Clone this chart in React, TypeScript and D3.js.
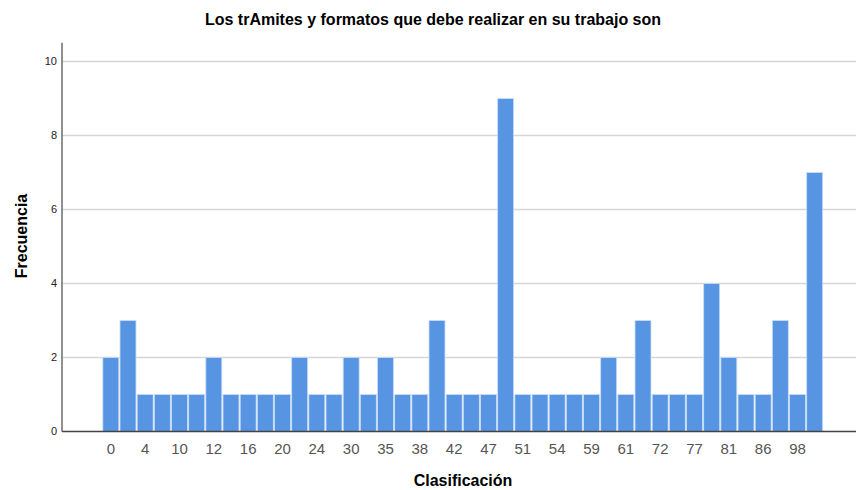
import React from "react";
import * as d3 from "d3";

const categories: string[] = [
  "0", "2", "4", "7", "10", "11", "12", "14", "16", "18", "20", "22", "24", "27",
  "30", "33", "35", "37", "38", "40", "42", "45", "47", "50", "51", "53", "54", "57",
  "59", "60", "61", "70", "72", "75", "77", "80", "81", "85", "86", "90", "98", "100",
];
const frequencies: number[] = [
  2, 3, 1, 1, 1, 1, 2, 1, 1, 1, 1, 2, 1, 1, 2, 1, 2, 1, 1, 3, 1,
  1, 1, 9, 1, 1, 1, 1, 1, 2, 1, 3, 1, 1, 1, 4, 2, 1, 1, 3, 1, 7,
];
const yTicks: number[] = [0, 2, 4, 6, 8, 10];
const title = "Los trAmites y formatos que debe realizar en su trabajo son";
const xTitle = "Clasificación";
const yTitle = "Frecuencia";

const W = 857;
const H = 490;
const plotLeft = 62;
const plotRight = 856;
const plotTop = 42.7;
const plotBottom = 431.5;

export default function App() {
  const x = d3
    .scaleBand<string>()
    .domain(categories)
    .range([102.5, 823])
    .paddingInner(0.07)
    .paddingOuter(0.02);
  const y = d3.scaleLinear().domain([0, 10.51]).range([plotBottom, plotTop]);
  const font = "'Liberation Sans', Arial, sans-serif";

  return (
    <svg
      width={W}
      height={H}
      style={{ position: "absolute", left: 0, top: 0, background: "#fff" }}
      fontFamily={font}
    >
      <text x={433} y={25} textAnchor="middle" fontSize={16} fontWeight="bold" fill="#000">
        {title}
      </text>
      {yTicks.filter((t) => t > 0).map((t) => (
        <line
          key={"g" + t}
          x1={plotLeft}
          x2={plotRight}
          y1={y(t)}
          y2={y(t)}
          stroke="#d6d6d6"
          strokeWidth={1.5}
        />
      ))}
      {yTicks.map((t) => (
        <text
          key={"yt" + t}
          x={plotLeft - 5}
          y={y(t)}
          dy="0.35em"
          textAnchor="end"
          fontSize={11}
          fill="#222"
        >
          {t}
        </text>
      ))}
      {categories.map((c, i) => (
        <rect
          key={"b" + c}
          x={x(c)!}
          y={y(frequencies[i])}
          width={x.bandwidth()}
          height={plotBottom - y(frequencies[i])}
          fill="#5795e3"
          stroke="#c9dcf5"
          strokeWidth={0.8}
        />
      ))}
      <line x1={plotLeft} x2={plotLeft} y1={plotTop} y2={plotBottom} stroke="#555" strokeWidth={1.3} />
      <line x1={plotLeft} x2={plotRight} y1={plotBottom} y2={plotBottom} stroke="#444" strokeWidth={1.3} />
      {categories.map((c, i) =>
        i % 2 === 0 ? (
          <text
            key={"xt" + c}
            x={x(c)! + x.bandwidth() / 2}
            y={454}
            textAnchor="middle"
            fontSize={15}
            fill="#555"
          >
            {c}
          </text>
        ) : null
      )}
      <text x={463} y={486} textAnchor="middle" fontSize={16} fontWeight="bold" fill="#000">
        {xTitle}
      </text>
      <text
        transform={`translate(27, ${236}) rotate(-90)`}
        textAnchor="middle"
        fontSize={16}
        fontWeight="bold"
        fill="#000"
      >
        {yTitle}
      </text>
    </svg>
  );
}
